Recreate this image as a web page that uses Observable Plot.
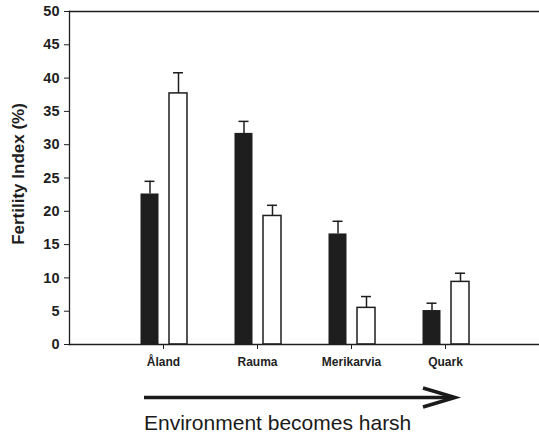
<!DOCTYPE html>
<html>
<head>
<meta charset="utf-8">
<script src="https://cdn.jsdelivr.net/npm/d3@7"></script>
<script src="https://cdn.jsdelivr.net/npm/@observablehq/plot@0.6"></script>
<style>
  html, body { margin: 0; padding: 0; background: #fff; }
  #chart svg { display: block; }
  #caption { display: block; }
</style>
</head>
<body>
<div id="chart"></div>
<svg id="caption" width="539" height="60" xmlns="http://www.w3.org/2000/svg">
  <line x1="144" y1="21.5" x2="453" y2="21.5" stroke="#1a1a1a" stroke-width="3.5"/>
  <path d="M423,12 L455,21.5 L423,31" fill="none" stroke="#1a1a1a" stroke-width="3.5" stroke-linejoin="miter"/>
  <text x="144" y="54" font-family="'Liberation Sans', Arial, sans-serif" font-size="21" fill="#1a1a1a">Environment becomes harsh</text>
</svg>
<script>
const sites = ["Åland", "Rauma", "Merikarvia", "Quark"];
const darkMeans = [22.6, 31.7, 16.6, 5.1];
const darkErr = [1.9, 1.8, 1.9, 1.1];
const lightMeans = [37.7, 19.3, 5.5, 9.4];
const lightErr = [3.1, 1.6, 1.7, 1.3];
const yTicks = [0, 5, 10, 15, 20, 25, 30, 35, 40, 45, 50];
const yLabel = "Fertility Index (%)";

const rows = sites.map((s, i) => ({
  site: s,
  dark: darkMeans[i], darkHi: darkMeans[i] + darkErr[i],
  light: lightMeans[i], lightHi: lightMeans[i] + lightErr[i]
}));

const ink = "#1e1e1e";

const chart = Plot.plot({
  width: 539,
  height: 376,
  marginTop: 11,
  marginBottom: 32,
  marginLeft: 69,
  marginRight: 0,
  style: { fontFamily: "'Liberation Sans', Arial, sans-serif", background: "#fff", color: ink },
  x: { type: "band", domain: sites, paddingInner: 0, paddingOuter: 0.5 },
  y: { domain: [0, 50] },
  marks: [
    Plot.barY(rows, { x: "site", y: "dark", fill: ink, insetLeft: 24.5, insetRight: 51.5 }),
    Plot.barY(rows, { x: "site", y: "light", fill: "#fff", stroke: ink, strokeWidth: 1.5, insetLeft: 53, insetRight: 23 }),
    Plot.ruleX(rows, { x: "site", y1: "dark", y2: "darkHi", dx: -13.5, stroke: ink, strokeWidth: 1.5 }),
    Plot.ruleX(rows, { x: "site", y1: "light", y2: "lightHi", dx: 15, stroke: ink, strokeWidth: 1.5 }),
    Plot.tickY(rows, { x: "site", y: "darkHi", stroke: ink, strokeWidth: 1.5, insetLeft: 28.5, insetRight: 55.5 }),
    Plot.tickY(rows, { x: "site", y: "lightHi", stroke: ink, strokeWidth: 1.5, insetLeft: 57, insetRight: 27 }),
    Plot.ruleY([0], { stroke: ink, strokeWidth: 1.3 }),
    Plot.ruleY([50], { stroke: ink, strokeWidth: 1.3 }),
    Plot.frame({ anchor: "left", stroke: ink, strokeWidth: 1.3 }),
    Plot.axisY({ ticks: yTicks, tickSize: 5, tickPadding: 5, fontSize: 14.5, fontWeight: "bold", label: null, stroke: ink }),
    Plot.axisX({ tickSize: 5, tickPadding: 8, fontSize: 12, fontWeight: "bold", label: null, stroke: ink }),
    Plot.text([yLabel], { text: d => d, frameAnchor: "left", textAnchor: "middle", lineAnchor: "middle", rotate: -90, dx: -51, dy: -4, fontSize: 17, fontWeight: "bold", fill: ink })
  ]
});
document.getElementById("chart").appendChild(chart);
</script>
</body>
</html>
